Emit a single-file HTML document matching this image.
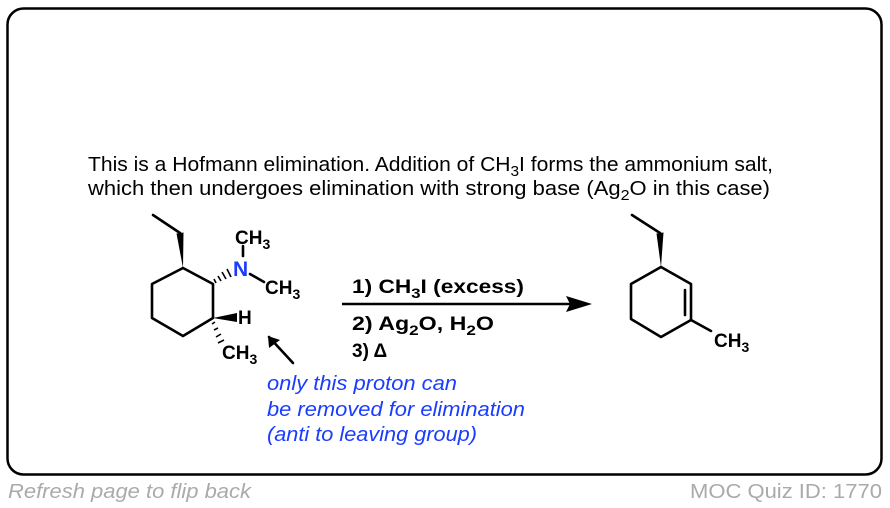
<!DOCTYPE html>
<html><head><meta charset="utf-8"><style>
html,body{margin:0;padding:0;background:#fff;}
body{width:890px;height:508px;overflow:hidden;}
svg{display:block;font-family:"Liberation Sans",Arial,sans-serif;}
</style></head><body>
<svg width="890" height="508" viewBox="0 0 890 508" xmlns="http://www.w3.org/2000/svg">
<rect x="7.5" y="8.5" width="874" height="466" rx="16" ry="16" fill="#fff" stroke="#000" stroke-width="2.5"/>
<text x="88" y="171" font-size="20.5" fill="#000" textLength="685" lengthAdjust="spacingAndGlyphs">This is a Hofmann elimination. Addition of CH<tspan font-size="15" dy="5">3</tspan><tspan dy="-5">I forms the ammonium salt,</tspan></text>
<text x="88" y="195" font-size="20.5" fill="#000" textLength="682" lengthAdjust="spacingAndGlyphs">which then undergoes elimination with strong base (Ag<tspan font-size="15" dy="5">2</tspan><tspan dy="-5">O in this case)</tspan></text>

<!-- left molecule -->
<g stroke="#000" stroke-width="2.6" fill="none" stroke-linejoin="round" stroke-linecap="round">
<polyline points="183,268 213,284 213,318 183,336 152,318 152,284 183,268"/>
<line x1="180" y1="233" x2="153" y2="215"/>
<line x1="243" y1="246" x2="243" y2="256"/>
<line x1="250" y1="274" x2="264" y2="282"/>
<line x1="293" y1="363" x2="269" y2="337"/>
</g>
<polygon points="183,268 176.5,233.5 183.5,232.5" fill="#000"/>
<polygon points="213,318 237,313 237,322" fill="#000"/>
<g stroke="#000" stroke-width="1.6">
<line x1="216" y1="283" x2="214" y2="279"/>
<line x1="221" y1="281" x2="218" y2="276"/>
<line x1="226" y1="279" x2="222" y2="272"/>
<line x1="231" y1="277" x2="227" y2="269"/>
<line x1="215" y1="322" x2="212" y2="324"/>
<line x1="218" y1="328" x2="214" y2="330"/>
<line x1="221" y1="334" x2="216" y2="337"/>
<line x1="224" y1="340" x2="218" y2="343"/>
</g>
<polygon points="268,336 269,348 280,340" fill="#000"/>
<g font-weight="bold" font-size="19" fill="#000">
<text x="235" y="244">CH<tspan font-size="14" dy="5">3</tspan></text>
<text x="233" y="276" fill="#1a3cff" font-size="21">N</text>
<text x="265" y="294">CH<tspan font-size="14" dy="5">3</tspan></text>
<text x="238" y="324">H</text>
<text x="222" y="359">CH<tspan font-size="14" dy="5">3</tspan></text>
</g>

<!-- arrow -->
<line x1="342" y1="304" x2="572" y2="304" stroke="#000" stroke-width="2.5"/>
<polygon points="592,304 566,296 570,304 566,312" fill="#000"/>
<g font-weight="bold" font-size="19" fill="#000" xml:space="preserve">
<text x="352" y="293" textLength="172" lengthAdjust="spacingAndGlyphs">1)  CH<tspan font-size="14" dy="5">3</tspan><tspan dy="-5">I (excess)</tspan></text>
<text x="352" y="330" textLength="142" lengthAdjust="spacingAndGlyphs">2)  Ag<tspan font-size="14" dy="5">2</tspan><tspan dy="-5">O, H</tspan><tspan font-size="14" dy="5">2</tspan><tspan dy="-5">O</tspan></text>
<text x="352" y="357">3)  Δ</text>
</g>

<!-- right molecule -->
<g stroke="#000" stroke-width="2.6" fill="none" stroke-linejoin="round" stroke-linecap="round">
<polyline points="661,267 691,284 691,320 661,337 631,319 631,284 661,267"/>
<line x1="685" y1="290" x2="685" y2="315"/>
<line x1="660" y1="233" x2="632" y2="215"/>
<line x1="691" y1="320" x2="711" y2="331"/>
</g>
<polygon points="661,267 656.5,233.5 663.5,232.5" fill="#000"/>
<text x="714" y="347" font-weight="bold" font-size="19" fill="#000">CH<tspan font-size="14" dy="5">3</tspan></text>

<g font-style="italic" font-size="20.5" fill="#1a3cff">
<text x="267" y="390" textLength="190" lengthAdjust="spacingAndGlyphs">only this proton can</text>
<text x="267" y="416" textLength="258" lengthAdjust="spacingAndGlyphs">be removed for elimination</text>
<text x="267" y="441" textLength="210" lengthAdjust="spacingAndGlyphs">(anti to leaving group)</text>
</g>
<text x="8" y="498" font-style="italic" font-size="20" fill="#aaa" textLength="243" lengthAdjust="spacingAndGlyphs">Refresh page to flip back</text>
<text x="690" y="498" font-size="20" fill="#aaa" textLength="192" lengthAdjust="spacingAndGlyphs">MOC Quiz ID: 1770</text>
</svg>
</body></html>
